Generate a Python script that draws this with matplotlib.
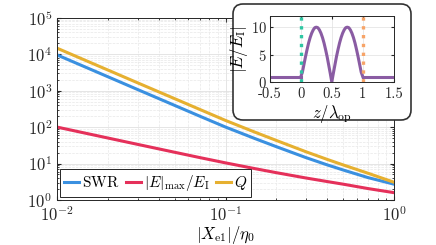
import matplotlib
matplotlib.use("Agg")
import matplotlib.pyplot as plt
from matplotlib.patches import FancyBboxPatch
from matplotlib.ticker import LogLocator, NullFormatter

plt.rcParams['font.family'] = 'serif'
plt.rcParams['font.serif'] = ['cmr10', 'DejaVu Serif']
plt.rcParams['mathtext.fontset'] = 'cm'
plt.rcParams['axes.formatter.use_mathtext'] = True
plt.rcParams['axes.unicode_minus'] = True

# main plot data
x_reac = [0.01, 0.02, 0.03, 0.05, 0.07, 0.1, 0.15, 0.2, 0.3, 0.4, 0.5, 0.7, 1.0]
swr = [9600, 2420, 1080, 392, 201, 100, 48, 29, 14.5, 9.2, 6.6, 4.1, 2.7]
e_max = [100, 50.2, 33.6, 20.3, 14.6, 10.4, 7.2, 5.6, 4.0, 3.2, 2.7, 2.05, 1.58]
q_fac = [14700, 3700, 1650, 600, 308, 152, 72, 43, 21, 13, 9.1, 5.4, 3.05]

# inset data: field profile
z_out_l = [-0.5, 0.0]
e_out_l = [1.0, 1.0]
z_in = [0.0, 0.025, 0.05, 0.075, 0.1, 0.125, 0.15, 0.175, 0.2, 0.225, 0.25,
        0.275, 0.3, 0.325, 0.35, 0.375, 0.4, 0.425, 0.45, 0.475, 0.5,
        0.525, 0.55, 0.575, 0.6, 0.625, 0.65, 0.675, 0.7, 0.725, 0.75,
        0.775, 0.8, 0.825, 0.85, 0.875, 0.9, 0.925, 0.95, 0.975, 1.0]
e_in = [1.0, 1.8, 3.2, 4.6, 5.9, 7.1, 8.1, 8.9, 9.5, 9.9, 10.0,
        9.9, 9.5, 8.9, 8.1, 7.1, 5.9, 4.6, 3.1, 1.6, 0.0,
        1.6, 3.1, 4.6, 5.9, 7.1, 8.1, 8.9, 9.5, 9.9, 10.0,
        9.9, 9.5, 8.9, 8.1, 7.1, 5.9, 4.6, 3.2, 1.8, 1.0]
z_out_r = [1.0, 1.5]
e_out_r = [1.0, 1.0]

c_blue = '#3a90e0'
c_red = '#e5305a'
c_yel = '#e6b030'
c_purp = '#8a5ca3'
c_teal = '#2ec6a2'
c_orng = '#f7a468'

fig = plt.figure(figsize=(4.36, 2.45), dpi=100)
ax = fig.add_axes([0.131, 0.184, 0.773, 0.743])
ax.plot(x_reac, swr, color=c_blue, lw=2.2, label=r'$\mathrm{SWR}$')
ax.plot(x_reac, e_max, color=c_red, lw=2.2, label=r'$|E|_{\max}/E_{\mathrm{I}}$')
ax.plot(x_reac, q_fac, color=c_yel, lw=2.2, label=r'$Q$')
ax.set_xscale('log')
ax.set_yscale('log')
ax.set_xlim(0.01, 1)
ax.set_ylim(1, 1e5)
ax.yaxis.set_major_locator(LogLocator(base=10, numticks=10))
ax.yaxis.set_minor_locator(LogLocator(base=10, subs=range(2, 10), numticks=20))
ax.yaxis.set_minor_formatter(NullFormatter())
ax.grid(which='major', color='0.88', lw=0.6, ls='-')
ax.grid(which='minor', color='0.91', lw=0.5, ls='--')
ax.tick_params(which='both', direction='in', top=True, right=True, colors='0.15', labelsize=12)
ax.tick_params(which='major', length=3)
ax.tick_params(which='minor', length=1.5)
for s in ax.spines.values():
    s.set_color('0.15')
    s.set_linewidth(0.7)
ax.set_xlabel(r'$|X_{\mathrm{e1}}|/\eta_0$', fontsize=12, labelpad=0)
leg = ax.legend(loc='lower left', ncol=3, fontsize=11, handlelength=1.0,
                handletextpad=0.2, columnspacing=0.4, borderpad=0.25,
                borderaxespad=0.2, fancybox=False, edgecolor='0.15', framealpha=1)
leg.get_frame().set_linewidth(0.7)

# rounded box behind the inset
box = FancyBboxPatch((2.35, 1.27), 1.74, 1.12, boxstyle='round,pad=0.02,rounding_size=0.1',
                     transform=fig.dpi_scale_trans, facecolor='white', edgecolor='0.2',
                     lw=1.2, zorder=2)
fig.add_artist(box)

ins = fig.add_axes([0.619, 0.665, 0.284, 0.269])
ins.set_zorder(3)
ins.plot(z_out_l, e_out_l, color=c_purp, lw=2.2)
ins.plot(z_in, e_in, color=c_purp, lw=2.2)
ins.plot(z_out_r, e_out_r, color=c_purp, lw=2.2)
ins.axvline(0, color=c_teal, lw=2.4, ls=':')
ins.axvline(1, color=c_orng, lw=2.4, ls=':')
ins.set_xlim(-0.5, 1.5)
ins.set_ylim(0, 12)
ins.set_xticks([-0.5, 0, 0.5, 1, 1.5])
ins.set_xticklabels(['-0.5', '0', '0.5', '1', '1.5'])
ins.set_yticks([0, 5, 10])
ins.grid(color='0.88', lw=0.5)
ins.tick_params(direction='in', top=True, right=True, colors='0.15', labelsize=10.5, length=2, pad=2)
ins.tick_params(axis='x', pad=4)
for s in ins.spines.values():
    s.set_color('0.15')
    s.set_linewidth(0.7)
ins.set_xlabel(r'$z/\lambda_{\mathrm{op}}$', fontsize=12, labelpad=1)
ins.set_ylabel(r'$|E/E_{\mathrm{I}}|$', fontsize=12, labelpad=1)

fig.savefig('out.png', dpi=100)
